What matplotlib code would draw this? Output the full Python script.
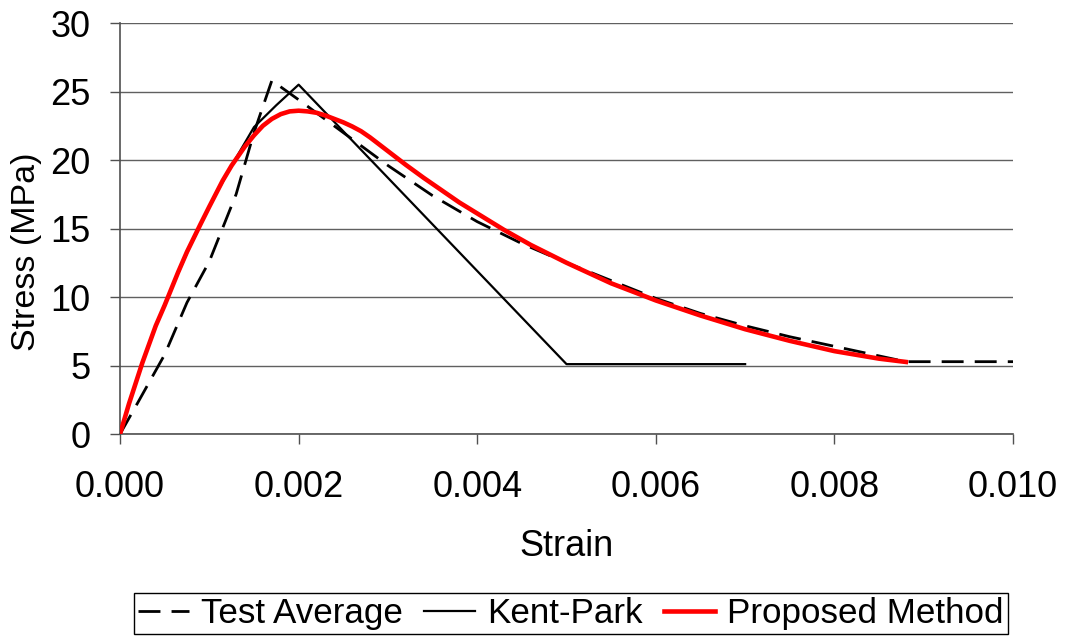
import matplotlib
matplotlib.use("Agg")
import matplotlib.pyplot as plt
from matplotlib.ticker import FormatStrFormatter, MultipleLocator

plt.rcParams['font.family'] = ['Liberation Sans', 'DejaVu Sans']

# Test Average (dashed)
test_strain = [0, 0.0002, 0.0005, 0.00075, 0.001, 0.0013, 0.0015, 0.0017, 0.002,
               0.0025, 0.003, 0.0035, 0.004, 0.0045, 0.005, 0.0055, 0.006, 0.0065,
               0.007, 0.0075, 0.008, 0.0085, 0.0088, 0.009, 0.0095, 0.010]
test_stress = [0, 2.3, 5.8, 9.6, 12.6, 17.5, 22.0, 25.8, 24.4,
               22.0, 19.6, 17.4, 15.5, 13.9, 12.5, 11.2, 9.9, 8.8,
               7.9, 7.1, 6.4, 5.7, 5.28, 5.28, 5.28, 5.28]

# Kent-Park model
kp_strain = [0, 0.00025, 0.0005, 0.00075, 0.001, 0.00125, 0.0015, 0.00175, 0.002, 0.005, 0.007]
kp_stress = [0, 5.3, 9.5, 13.2, 16.6, 19.6, 22.4, 24.0, 25.5, 5.1, 5.1]

# Proposed method
prop_strain = [0, 0.0001, 0.00025, 0.0004, 0.0005, 0.00065, 0.00075, 0.0009, 0.001,
               0.00115, 0.00125, 0.0014, 0.0015, 0.0016, 0.0017, 0.0018, 0.0019, 0.002,
               0.0021, 0.0022, 0.0023, 0.0024, 0.0025, 0.0026, 0.0027, 0.0028, 0.0029,
               0.003, 0.0032, 0.0034, 0.0036, 0.0038, 0.004, 0.0043, 0.0046, 0.005,
               0.0055, 0.006, 0.0065, 0.007, 0.0075, 0.008, 0.0085, 0.0088]
prop_stress = [0, 2.2, 5.2, 7.9, 9.4, 11.8, 13.3, 15.3, 16.6,
               18.5, 19.6, 21.0, 21.8, 22.5, 23.0, 23.35, 23.55, 23.6,
               23.55, 23.45, 23.25, 23.0, 22.75, 22.45, 22.1, 21.65, 21.15,
               20.65, 19.65, 18.7, 17.8, 16.9, 16.1, 14.9, 13.8, 12.5,
               11.0, 9.75, 8.65, 7.65, 6.8, 6.05, 5.5, 5.26]

fig = plt.figure(figsize=(10.65, 6.36), dpi=100)
ax = fig.add_axes([0.1127, 0.3176, 0.8385, 0.6462])

ax.plot(test_strain, test_stress, color='black', lw=2, linestyle=(0, (7.9, 4)),
        label='Test Average', zorder=3)
ax.plot(kp_strain, kp_stress, color='black', lw=1.6, label='Kent-Park', zorder=3)
ax.plot(prop_strain, prop_stress, color='#ff0000', lw=3.3, label='Proposed Method',
        zorder=4, solid_joinstyle='round')

ax.set_xlim(0, 0.010)
ax.set_ylim(0, 30)
ax.xaxis.set_major_locator(MultipleLocator(0.002))
ax.yaxis.set_major_locator(MultipleLocator(5))
ax.xaxis.set_major_formatter(FormatStrFormatter('%.3f'))

ax.grid(axis='y', color='#606060', lw=1.0)
ax.set_axisbelow(True)
for s in ['top', 'right']:
    ax.spines[s].set_visible(False)
for s in ['left', 'bottom']:
    ax.spines[s].set_color('#505050')
    ax.spines[s].set_linewidth(1.2)

ax.tick_params(axis='both', direction='out', length=7, width=1, color='#505050',
               labelsize=26)
ax.tick_params(axis='x', pad=19)
ax.tick_params(axis='y', pad=14)

ax.set_xlabel('Strain', fontsize=26, labelpad=17)
ax.set_ylabel('Stress (MPa)', fontsize=24.5)
ax.yaxis.set_label_coords(-0.087, 0.443)

leg = fig.legend(loc='lower center', bbox_to_anchor=(0.536, 0.0), ncol=3,
                 fontsize=25.2, frameon=True, fancybox=False, framealpha=1,
                 edgecolor='black', handlelength=1.45, handletextpad=0.35,
                 columnspacing=0.6, borderpad=0.12, borderaxespad=0.05)
leg.get_frame().set_linewidth(1.0)

fig.savefig('out.png', dpi=100)
